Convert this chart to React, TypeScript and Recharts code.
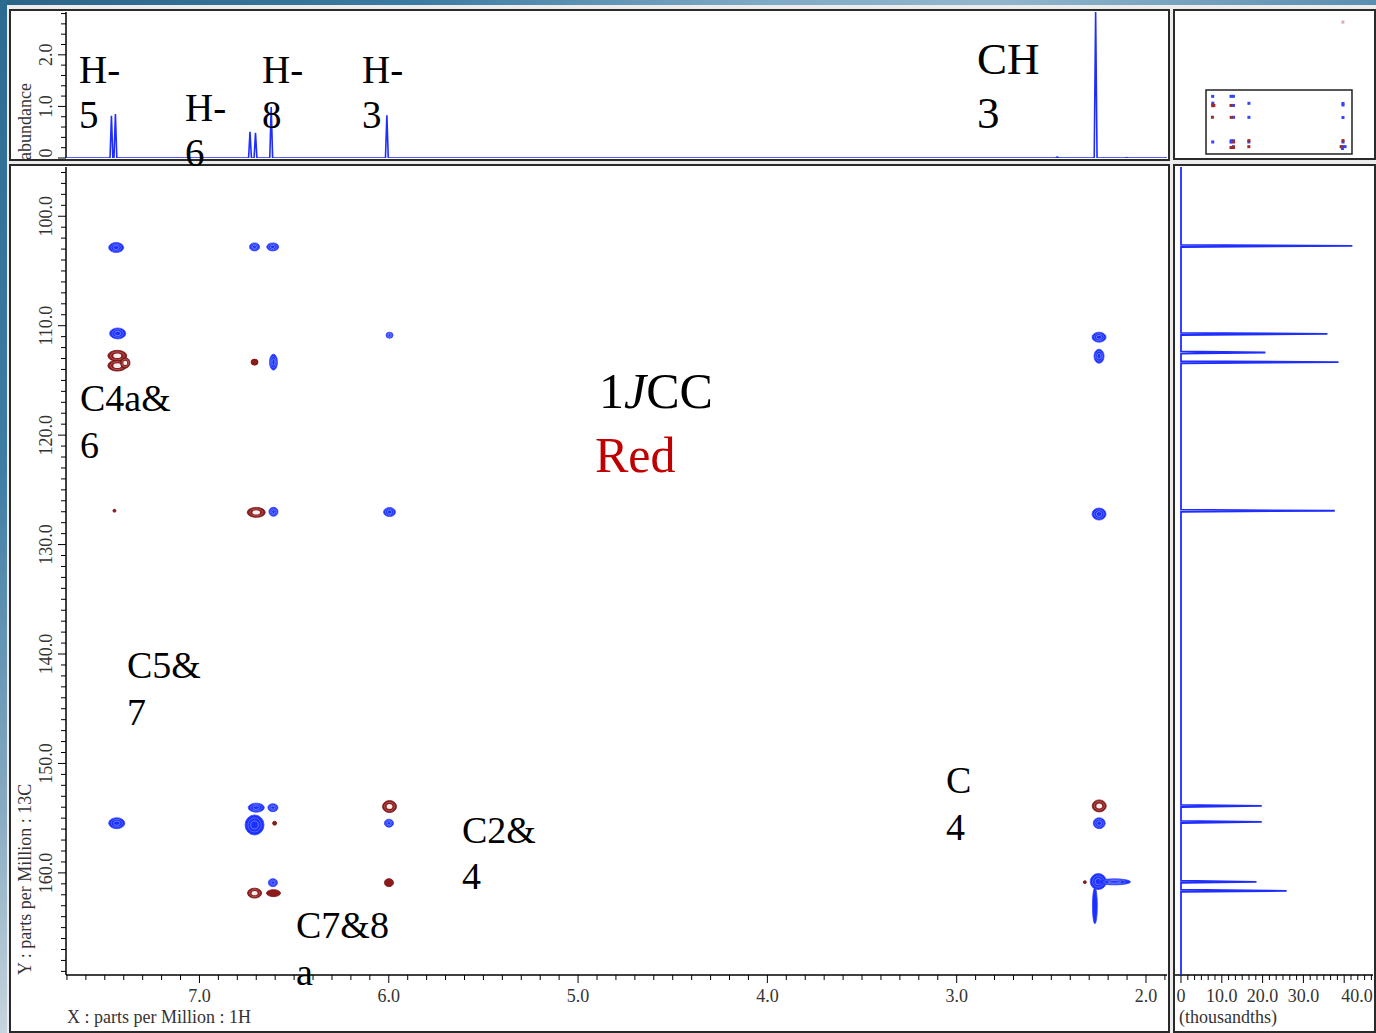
import React from 'react';
import { ScatterChart, Scatter, XAxis, YAxis, ReferenceArea } from 'recharts';

// Axis windows (ppm) shared by the 2D map and its projections
const H_DOMAIN: [number, number] = [1.889, 7.705];
const C_DOMAIN: [number, number] = [95.5, 169.33];
const ABUNDANCE_DOMAIN: [number, number] = [0, 2.83];
const PROJECTION_DOMAIN: [number, number] = [-1.47, 47.06];
// Full acquisition window shown in the overview thumbnail
const OVERVIEW_H_DOMAIN: [number, number] = [1.092, 8.9];
const OVERVIEW_C_DOMAIN: [number, number] = [5.5, 172.8];

// 1H trace (top): shift (ppm) and abundance
const protonShifts = [7.465, 7.444, 6.733, 6.704, 6.621, 6.01, 2.469, 2.266, 2.103];
const protonHeights = [0.82, 0.85, 0.51, 0.49, 0.99, 0.83, 0.02, 2.83, 0.01];

// 13C projection (right): shift (ppm) and intensity (thousandths)
const carbonShifts = [102.71, 110.75, 112.45, 113.33, 126.91, 153.88, 155.34, 160.82, 161.64];
const carbonIntensities = [42.0, 35.9, 20.7, 38.6, 37.7, 19.8, 19.8, 18.5, 25.9];

// Cross peaks: 1H shift, 13C shift, contour extent along 1H and 13C (ppm)
const positivePeaks = [
  { h: 7.44, c: 102.86, wh: 0.079, wc: 0.91 },
  { h: 6.709, c: 102.8, wh: 0.053, wc: 0.73 },
  { h: 6.613, c: 102.8, wh: 0.063, wc: 0.73 },
  { h: 7.432, c: 110.71, wh: 0.085, wc: 1.0 },
  { h: 6.609, c: 113.33, wh: 0.042, wc: 1.46 },
  { h: 5.996, c: 110.87, wh: 0.037, wc: 0.55 },
  { h: 6.609, c: 127.0, wh: 0.048, wc: 0.82 },
  { h: 5.996, c: 127.03, wh: 0.063, wc: 0.82 },
  { h: 2.248, c: 111.05, wh: 0.074, wc: 0.91 },
  { h: 2.248, c: 112.79, wh: 0.053, wc: 1.28 },
  { h: 2.248, c: 127.21, wh: 0.074, wc: 1.1 },
  { h: 7.437, c: 155.46, wh: 0.085, wc: 1.0 },
  { h: 6.7, c: 154.04, wh: 0.085, wc: 0.82 },
  { h: 6.612, c: 154.04, wh: 0.053, wc: 0.73 },
  { h: 6.709, c: 155.62, wh: 0.1, wc: 1.83 },
  { h: 6.612, c: 160.89, wh: 0.048, wc: 0.73 },
  { h: 5.999, c: 155.46, wh: 0.048, wc: 0.73 },
  { h: 2.247, c: 155.46, wh: 0.063, wc: 1.0 },
  { h: 2.252, c: 160.79, wh: 0.085, wc: 1.46 },
  { h: 2.166, c: 160.82, wh: 0.169, wc: 0.55 },
  { h: 2.27, c: 163.0, wh: 0.026, wc: 3.29 },
];

const negativePeaks = [
  { h: 7.434, c: 112.75, wh: 0.1, wc: 1.0 },
  { h: 7.434, c: 113.65, wh: 0.1, wc: 1.0 },
  { h: 7.392, c: 113.4, wh: 0.05, wc: 0.95 },
  { h: 6.709, c: 113.33, wh: 0.037, wc: 0.55 },
  { h: 7.449, c: 126.91, wh: 0.016, wc: 0.27 },
  { h: 6.7, c: 127.06, wh: 0.095, wc: 0.91 },
  { h: 6.603, c: 155.46, wh: 0.021, wc: 0.37 },
  { h: 5.996, c: 153.94, wh: 0.074, wc: 1.1 },
  { h: 5.999, c: 160.89, wh: 0.048, wc: 0.73 },
  { h: 6.709, c: 161.85, wh: 0.074, wc: 0.91 },
  { h: 6.609, c: 161.85, wh: 0.074, wc: 0.64 },
  { h: 2.247, c: 153.88, wh: 0.074, wc: 1.1 },
  { h: 2.323, c: 160.85, wh: 0.016, wc: 0.27 },
];

// Correlation outside the displayed window (overview only)
const outsideWindowPeaks = [{ h: 2.25, c: 17.1 }];

// Tick values
const hTicks = Array.from({ length: 59 }, (_, k) => (k + 19) / 10);
const cTicks = Array.from({ length: 74 }, (_, k) => k + 96);
const abundanceTicks = Array.from({ length: 15 }, (_, k) => k / 5);
const projectionTicks = Array.from({ length: 29 }, (_, k) => (k * 10) / 6);

const BLUE = '#1b2fff';
const RED = '#8c1c1c';
const TRACE = '#1f2dff';
const TICK_TEXT = '#333';
const SERIF = '"Liberation Serif", "Times New Roman", serif';

// Plot geometry of the 2D map (px)
const MAIN_W = 1159;
const MAIN_H = 866;
const AXIS_W = 56;
const AXIS_H = 56;
const PLOT_W = MAIN_W - AXIS_W - 2;
const PLOT_H = MAIN_H - AXIS_H - 2;
const PX_PER_H = PLOT_W / (H_DOMAIN[1] - H_DOMAIN[0]);
const PX_PER_C = PLOT_H / (C_DOMAIN[1] - C_DOMAIN[0]);

const PEAK_HALF_H = 0.0075;
const PEAK_HALF_C = 0.1;

function buildProtonTrace() {
  const order = protonShifts.map((_, i) => i).sort((a, b) => protonShifts[b] - protonShifts[a]);
  const pts: { x: number; y: number }[] = [{ x: H_DOMAIN[1], y: 0 }];
  order.forEach((i) => {
    const p = protonShifts[i];
    pts.push({ x: p + PEAK_HALF_H, y: 0 }, { x: p, y: protonHeights[i] }, { x: p - PEAK_HALF_H, y: 0 });
  });
  pts.push({ x: H_DOMAIN[0], y: 0 });
  return pts;
}

function buildCarbonTrace() {
  const order = carbonShifts.map((_, i) => i).sort((a, b) => carbonShifts[a] - carbonShifts[b]);
  const pts: { v: number; c: number }[] = [{ v: 0, c: C_DOMAIN[0] }];
  order.forEach((i) => {
    const p = carbonShifts[i];
    pts.push({ v: 0, c: p - PEAK_HALF_C }, { v: carbonIntensities[i], c: p }, { v: 0, c: p + PEAK_HALF_C });
  });
  pts.push({ v: 0, c: C_DOMAIN[1] });
  return pts;
}

const protonTrace = buildProtonTrace();
const carbonTrace = buildCarbonTrace();

const Nothing = () => <g />;

function PositiveContour(props: any) {
  const { cx, cy, payload } = props;
  if (cx == null || cy == null) return <g />;
  const rx = Math.max(1.2, (payload.wh * PX_PER_H) / 2);
  const ry = Math.max(1.2, (payload.wc * PX_PER_C) / 2);
  const big = rx > 3 && ry > 3;
  return (
    <g>
      <ellipse cx={cx} cy={cy} rx={rx} ry={ry} fill={BLUE} stroke="#3447ff" strokeWidth={0.8} />
      {big && <ellipse cx={cx} cy={cy} rx={rx * 0.7} ry={ry * 0.7} fill="none" stroke="#7b8aff" strokeWidth={0.6} />}
      {big && <ellipse cx={cx} cy={cy} rx={rx * 0.4} ry={ry * 0.4} fill="none" stroke="#9ba7ff" strokeWidth={0.6} />}
    </g>
  );
}

function NegativeContour(props: any) {
  const { cx, cy, payload } = props;
  if (cx == null || cy == null) return <g />;
  const rx = Math.max(1.2, (payload.wh * PX_PER_H) / 2);
  const ry = Math.max(1.2, (payload.wc * PX_PER_C) / 2);
  const big = rx > 4 && ry > 4;
  return (
    <g>
      <ellipse cx={cx} cy={cy} rx={rx} ry={ry} fill={RED} stroke="#7a1515" strokeWidth={0.8} />
      {big && <ellipse cx={cx} cy={cy} rx={rx * 0.72} ry={ry * 0.72} fill="none" stroke="#c07a7a" strokeWidth={0.6} />}
      {big && <ellipse cx={cx} cy={cy} rx={rx * 0.42} ry={ry * 0.42} fill="#f6eded" />}
    </g>
  );
}

function OverviewDot(props: any) {
  const { cx, cy, fill } = props;
  if (cx == null || cy == null) return <g />;
  return <rect x={cx - 1.5} y={cy - 1.5} width={3} height={3} fill={fill} />;
}

const fmt = (v: number) => (Math.abs(v) < 1e-9 ? '0' : v.toFixed(1));

// Bottom axis tick: marks every step, labels on the majors
function makeBottomTick(isMajor: (v: number) => boolean, lastMajor?: number) {
  return (props: any) => {
    const { x, y, payload } = props;
    const v = payload.value as number;
    const major = isMajor(v);
    const last = lastMajor != null && Math.abs(v - lastMajor) < 1e-6;
    return (
      <g>
        <line x1={x} y1={y} x2={x} y2={y + (major ? 8 : 5)} stroke="#000" strokeWidth={1} />
        {major && (
          <text
            x={last ? x - 3 : x}
            y={y + 27}
            textAnchor={last ? 'start' : 'middle'}
            fontFamily={SERIF}
            fontSize={18}
            fill={TICK_TEXT}
          >
            {fmt(v)}
          </text>
        )}
      </g>
    );
  };
}

// Left axis tick: marks every step, rotated labels on the majors
function makeLeftTick(isMajor: (v: number) => boolean, lowestLabel?: number) {
  return (props: any) => {
    const { x, y, payload } = props;
    const v = payload.value as number;
    const major = isMajor(v);
    const tx = x - 14;
    // the label sitting on the frame edge is nudged inward so it stays whole
    const ty = lowestLabel != null && Math.abs(v - lowestLabel) < 1e-6 ? y - 5 : y;
    return (
      <g>
        <line x1={x - (major ? 8 : 5)} y1={y} x2={x} y2={y} stroke="#000" strokeWidth={1} />
        {major && (
          <text
            x={tx}
            y={ty}
            transform={`rotate(-90 ${tx} ${ty})`}
            textAnchor="middle"
            fontFamily={SERIF}
            fontSize={18}
            fill={TICK_TEXT}
          >
            {fmt(v)}
          </text>
        )}
      </g>
    );
  };
}

const near = (v: number, step: number) => Math.abs(v / step - Math.round(v / step)) < 1e-6;

const hTick = makeBottomTick((v) => near(v, 1));
const cTick = makeLeftTick((v) => near(v, 10));
const abundanceTick = makeLeftTick((v) => near(v, 1), 0);
const projectionTick = makeBottomTick((v) => near(v, 10), 40);

function Frame({ left, top, width, height }: { left: number; top: number; width: number; height: number }) {
  return (
    <div
      style={{
        position: 'absolute',
        left,
        top,
        width,
        height,
        boxSizing: 'border-box',
        border: '2px solid #2a2a2a',
        background: '#fff',
      }}
    />
  );
}

function Note({ x, y, size, children, fill = '#000' }: any) {
  return (
    <text x={x} y={y} fontFamily={SERIF} fontSize={size} fill={fill}>
      {children}
    </text>
  );
}

export default function App() {
  return (
    <div
      style={{
        position: 'absolute',
        left: 0,
        top: 0,
        width: 1376,
        height: 1033,
        overflow: 'hidden',
        background: 'linear-gradient(90deg, #2c6487 0%, #3b7aa1 30%, #7ea9c4 55%, #93b6cc 72%, #5a8eb0 100%)',
      }}
    >
      <div
        style={{
          position: 'absolute',
          left: 0,
          top: 0,
          width: 7,
          height: 1033,
          background: 'linear-gradient(180deg, #2d6a90 0%, #3d7ca3 45%, #86aac1 78%, #c7d4dd 100%)',
        }}
      />
      <div style={{ position: 'absolute', left: 7, top: 5, right: 0, bottom: 0, background: '#ececec' }} />

      <Frame left={9} top={9} width={1161} height={152} />
      <Frame left={9} top={164} width={1161} height={869} />
      <Frame left={1173} top={9} width={203} height={151} />
      <Frame left={1173} top={164} width={203} height={869} />

      {/* 1H trace */}
      <div style={{ position: 'absolute', left: 10, top: 10 }}>
        <ScatterChart width={MAIN_W} height={150} margin={{ top: 2, right: 2, bottom: 2, left: 0 }}>
          <XAxis type="number" dataKey="x" domain={H_DOMAIN} reversed hide allowDataOverflow />
          <YAxis
            type="number"
            dataKey="y"
            domain={ABUNDANCE_DOMAIN}
            allowDataOverflow
            width={AXIS_W}
            ticks={abundanceTicks}
            interval={0}
            tick={abundanceTick}
            tickLine={false}
            tickSize={0}
            tickMargin={0}
            axisLine={{ stroke: '#000', strokeWidth: 1.5 }}
          />
          <Scatter
            data={protonTrace}
            line={{ stroke: TRACE, strokeWidth: 1.6 }}
            shape={Nothing}
            isAnimationActive={false}
          />
        </ScatterChart>
      </div>

      {/* 2D correlation map */}
      <div style={{ position: 'absolute', left: 10, top: 165 }}>
        <ScatterChart width={MAIN_W} height={MAIN_H} margin={{ top: 2, right: 2, bottom: 0, left: 0 }}>
          <XAxis
            type="number"
            dataKey="h"
            domain={H_DOMAIN}
            reversed
            allowDataOverflow
            height={AXIS_H}
            ticks={hTicks}
            interval={0}
            tick={hTick}
            tickLine={false}
            tickSize={0}
            tickMargin={0}
            axisLine={{ stroke: '#000', strokeWidth: 1.5 }}
          />
          <YAxis
            type="number"
            dataKey="c"
            domain={C_DOMAIN}
            reversed
            allowDataOverflow
            width={AXIS_W}
            ticks={cTicks}
            interval={0}
            tick={cTick}
            tickLine={false}
            tickSize={0}
            tickMargin={0}
            axisLine={{ stroke: '#000', strokeWidth: 1.5 }}
          />
          <Scatter data={positivePeaks} shape={PositiveContour} isAnimationActive={false} />
          <Scatter data={negativePeaks} shape={NegativeContour} isAnimationActive={false} />
        </ScatterChart>
      </div>

      {/* 13C projection */}
      <div style={{ position: 'absolute', left: 1175, top: 165 }}>
        <ScatterChart width={198} height={MAIN_H} margin={{ top: 2, right: 0, bottom: 0, left: 0 }}>
          <XAxis
            type="number"
            dataKey="v"
            domain={PROJECTION_DOMAIN}
            allowDataOverflow
            height={AXIS_H}
            ticks={projectionTicks}
            interval={0}
            tick={projectionTick}
            tickLine={false}
            tickSize={0}
            tickMargin={0}
            axisLine={{ stroke: '#000', strokeWidth: 1.5 }}
          />
          <YAxis type="number" dataKey="c" domain={C_DOMAIN} reversed hide allowDataOverflow />
          <Scatter
            data={carbonTrace}
            line={{ stroke: TRACE, strokeWidth: 1.8 }}
            shape={Nothing}
            isAnimationActive={false}
          />
        </ScatterChart>
      </div>

      {/* overview of the full window */}
      <div style={{ position: 'absolute', left: 1176, top: 12 }}>
        <ScatterChart width={196} height={145} margin={{ top: 0, right: 0, bottom: 0, left: 0 }}>
          <XAxis type="number" dataKey="h" domain={OVERVIEW_H_DOMAIN} reversed hide allowDataOverflow />
          <YAxis type="number" dataKey="c" domain={OVERVIEW_C_DOMAIN} reversed hide allowDataOverflow />
          <ReferenceArea
            x1={H_DOMAIN[1]}
            x2={H_DOMAIN[0]}
            y1={C_DOMAIN[0]}
            y2={C_DOMAIN[1]}
            fill="none"
            fillOpacity={0}
            stroke="#222"
            strokeWidth={1.5}
          />
          <Scatter data={positivePeaks} fill="#3344ff" shape={OverviewDot} isAnimationActive={false} />
          <Scatter data={negativePeaks} fill="#a02a2a" shape={OverviewDot} isAnimationActive={false} />
          <Scatter data={outsideWindowPeaks} fill="#dcaaaa" shape={OverviewDot} isAnimationActive={false} />
        </ScatterChart>
      </div>

      {/* titles and assignments */}
      <svg
        width={1376}
        height={1033}
        style={{ position: 'absolute', left: 0, top: 0, pointerEvents: 'none' }}
      >
        <text x={31} y={160} transform="rotate(-90 31 160)" fontFamily={SERIF} fontSize={18} fill={TICK_TEXT}>
          abundance
        </text>
        <text x={31} y={975} transform="rotate(-90 31 975)" fontFamily={SERIF} fontSize={18} fill={TICK_TEXT}>
          Y : parts per Million : 13C
        </text>
        <text x={67} y={1023} fontFamily={SERIF} fontSize={18} fill={TICK_TEXT}>
          X : parts per Million : 1H
        </text>
        <text x={1179} y={1023} fontFamily={SERIF} fontSize={18} fill={TICK_TEXT}>
          (thousandths)
        </text>

        <Note x={79} y={83} size={39}>H-</Note>
        <Note x={79} y={128} size={39}>5</Note>
        <Note x={185} y={121} size={39}>H-</Note>
        <Note x={185} y={166} size={39}>6</Note>
        <Note x={262} y={83} size={39}>H-</Note>
        <Note x={262} y={128} size={39}>8</Note>
        <Note x={362} y={83} size={39}>H-</Note>
        <Note x={362} y={128} size={39}>3</Note>
        <Note x={977} y={74} size={45}>CH</Note>
        <Note x={977} y={128} size={45}>3</Note>

        <Note x={80} y={411} size={38}>C4a&amp;</Note>
        <Note x={80} y={458} size={38}>6</Note>
        <text x={599} y={408} fontFamily={SERIF} fontSize={50} fill="#000">
          1<tspan fontStyle="italic">J</tspan>CC
        </text>
        <Note x={595} y={472} size={50} fill="#c00000">Red</Note>
        <Note x={127} y={678} size={38}>C5&amp;</Note>
        <Note x={127} y={725} size={38}>7</Note>
        <Note x={462} y={843} size={38}>C2&amp;</Note>
        <Note x={462} y={889} size={38}>4</Note>
        <Note x={946} y={793} size={38}>C</Note>
        <Note x={946} y={840} size={38}>4</Note>
        <Note x={296} y={938} size={38}>C7&amp;8</Note>
        <Note x={296} y={985} size={38}>a</Note>
      </svg>
    </div>
  );
}
